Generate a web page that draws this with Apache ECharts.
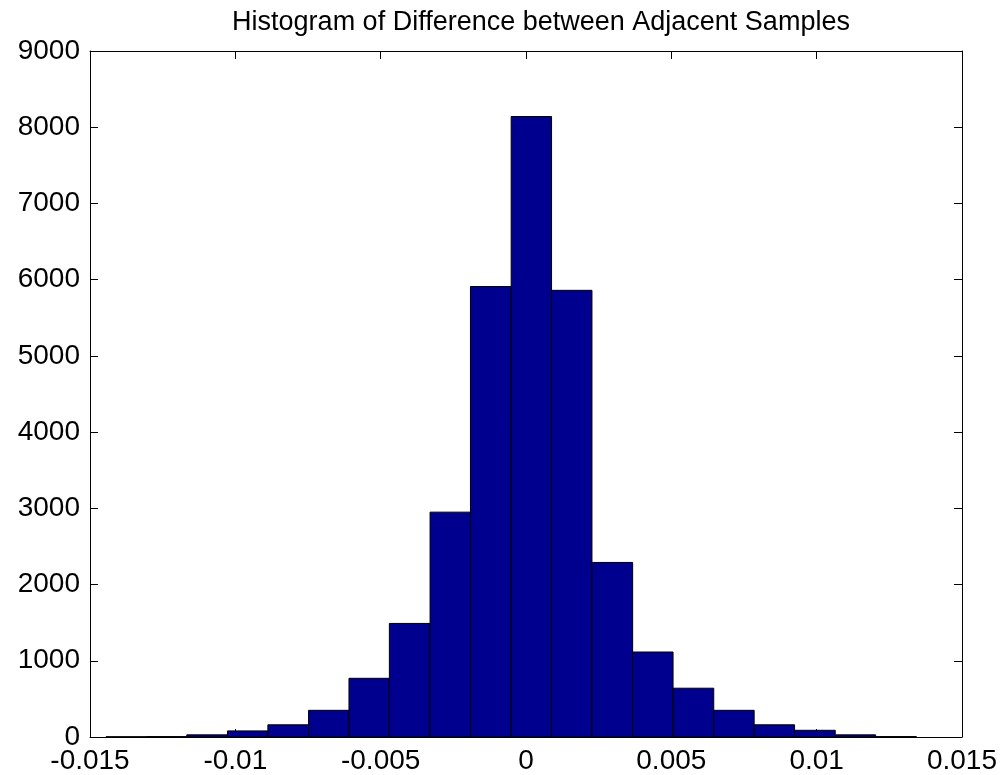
<!DOCTYPE html>
<html>
<head>
<meta charset="utf-8">
<script src="https://cdn.jsdelivr.net/npm/echarts@6/dist/echarts.min.js"></script>
<style>html,body{margin:0;padding:0;background:#fff;}#chart{width:1000px;height:775px;}</style>
</head>
<body>
<div id="chart"></div>
<script>
// Bin edges (21 values) of the histogram
const binEdges = [-0.01445, -0.01306, -0.01167, -0.01027, -0.00888, -0.00748, -0.00609, -0.00470, -0.00330, -0.00191, -0.00051, 0.00088, 0.00227, 0.00367, 0.00506, 0.00646, 0.00785, 0.00924, 0.01064, 0.01203, 0.01343];
// Counts per bin (20 values)
const binCounts = [3, 5, 28, 80, 160, 350, 770, 1490, 2950, 5910, 8140, 5860, 2290, 1115, 640, 350, 160, 88, 28, 5];
const xTickLabels = ['-0.015', '-0.01', '-0.005', '0', '0.005', '0.01', '0.015'];
const yTickLabels = ['0', '1000', '2000', '3000', '4000', '5000', '6000', '7000', '8000', '9000'];
const titleText = 'Histogram of Difference between Adjacent Samples';

const data = binCounts.map((c, i) => [binEdges[i], binEdges[i + 1], c]);
const FONT = '"Liberation Sans", Arial, Helvetica, sans-serif';

function xFmt(v) {
  const idx = Math.round((v + 0.015) / 0.005);
  return xTickLabels[idx] !== undefined ? xTickLabels[idx] : '';
}
function yFmt(v) {
  const idx = Math.round(v / 1000);
  return yTickLabels[idx] !== undefined ? yTickLabels[idx] : '';
}

const chart = echarts.init(document.getElementById('chart'), null, {renderer: 'canvas'});
const axisCommon = {
  axisLine: {show: true, onZero: false, lineStyle: {color: '#000', width: 1}},
  axisTick: {show: true, inside: true, length: 8, lineStyle: {color: '#000', width: 1}},
  splitLine: {show: false}
};
chart.setOption({
  backgroundColor: '#fff',
  animation: false,
  title: {
    text: titleText,
    left: 536,
    textAlign: 'center',
    top: 4,
    textStyle: {fontFamily: FONT, fontSize: 27, fontWeight: 'normal', color: '#000'}
  },
  grid: {left: 90, right: 38, top: 51, bottom: 37, containLabel: false},
  xAxis: [
    Object.assign({
      type: 'value', min: -0.015, max: 0.015, interval: 0.005, position: 'bottom',
      axisLabel: {show: true, margin: 10, color: '#000', fontFamily: FONT, fontSize: 28, formatter: xFmt}
    }, axisCommon),
    Object.assign({
      type: 'value', min: -0.015, max: 0.015, interval: 0.005, position: 'top',
      axisLabel: {show: false}
    }, axisCommon)
  ],
  yAxis: [
    Object.assign({
      type: 'value', min: 0, max: 9000, interval: 1000, position: 'left',
      axisLabel: {show: true, margin: 10, color: '#000', fontFamily: FONT, fontSize: 28, formatter: yFmt}
    }, axisCommon),
    Object.assign({
      type: 'value', min: 0, max: 9000, interval: 1000, position: 'right',
      axisLabel: {show: false}
    }, axisCommon)
  ],
  series: [{
    type: 'custom',
    xAxisIndex: 0,
    yAxisIndex: 0,
    encode: {x: [0, 1], y: 2},
    data: data,
    renderItem: function (params, api) {
      const x0 = api.value(0), x1 = api.value(1), c = api.value(2);
      const pTop = api.coord([x0, c]);
      const pBot = api.coord([x1, 0]);
      return {
        type: 'rect',
        shape: {x: pTop[0], y: pTop[1], width: pBot[0] - pTop[0], height: pBot[1] - pTop[1]},
        style: {fill: '#00008F', stroke: '#000', lineWidth: 1}
      };
    }
  }]
});
</script>
</body>
</html>
